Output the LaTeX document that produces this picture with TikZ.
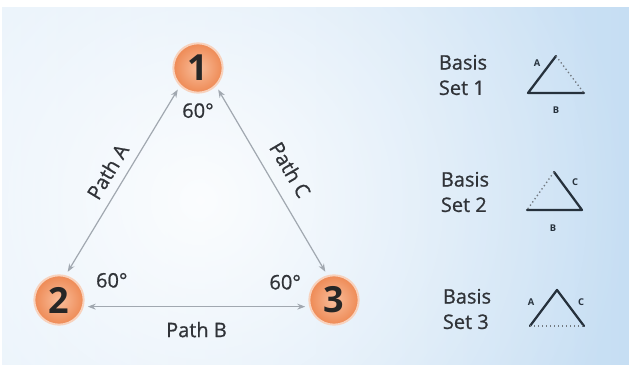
\documentclass[tikz,border=0pt]{standalone}
\usepackage{fontspec}
\setmainfont{Open Sans}
\newfontfamily\medfont{Open Sans}[FakeBold=0.8]
\usetikzlibrary{arrows.meta, positioning, fadings}

\definecolor{bgleft}{HTML}{E3EFFA}
\definecolor{bgright}{HTML}{C6DEF3}
\definecolor{hubinner}{HTML}{F9BE9C}
\definecolor{hubouter}{HTML}{EE8A55}
\definecolor{hubrim}{HTML}{F8D2BD}
\definecolor{pathgray}{HTML}{A1A8B0}
\definecolor{inkgray}{HTML}{303338}
\definecolor{legink}{HTML}{26313C}
\tikzfading[name=glowfade, inner color=transparent!0, outer color=transparent!100]

\begin{document}
\begin{tikzpicture}[x=0.75pt, y=0.75pt, >={Stealth[length=6pt, width=4.5pt]}]

	\tikzset{
		hub/.style={
				circle, inner color=hubinner, outer color=hubouter, draw=hubrim, line width=1.5pt, inner sep=0pt, minimum size=37pt, text=black!85, font=\fontsize{27}{27}\selectfont\bfseries
			},
		pathline/.style={
				<->, draw=pathgray, line width=0.9pt, shorten <=3pt, shorten >=3pt
			},
		lbl/.style={
				text=inkgray, font=\medfont\fontsize{15}{19}\selectfont, inner sep=1pt
			},
		leg/.style={
				draw=legink, line width=1.7pt, line cap=round, line join=round
			},
		dotleg/.style={
				draw=legink!65, line width=1pt, dotted
			},
		legtxt/.style={
				text=legink, font=\fontsize{7}{7}\selectfont\bfseries, inner sep=0.5pt
			},
	}
	\useasboundingbox (0,0) rectangle (629,372);
	\shade[left color=bgleft, right color=bgright] (2,8) rectangle (629,364);
	\begin{scope}
		\clip (2,8) rectangle (629,364);
		\fill[white, opacity=0.9, path fading=glowfade] (200,172) circle (430);
	\end{scope}

	\node[hub] (n1) at (198,304) {1};
	\node[hub] (n2) at (59,72) {2};
	\node[hub] (n3) at (334,72) {3};

	\draw[pathline] (n2.75) -- (n1.225) node[lbl, midway, sloped, above=6pt]{Path A};
	\draw[pathline] (n1.-45) -- (n3.105) node[lbl, midway, sloped, above=9pt]{Path C};
	\draw[pathline] (n2.-15) -- (n3.195) node[lbl, midway, below=10pt]{Path B};

	\node[lbl, below=6pt of n1](g1){60°};
	\node[lbl, above right=-5.6pt and 13pt of n2](g2){60°};
	\node[lbl, above left=-7pt and 10pt of n3](g3){60°};


  \node[lbl, align=left] (b1) at (463,297) {Basis\\Set 1};
  \node[lbl, align=left] (b2) at (465,180) {Basis\\Set 2};
  \node[lbl, align=left] (b3) at (467,63) {Basis\\Set 3};

	% basis set 1
	\coordinate (t1l) at (528,279);
	\coordinate (t1r) at (584,279);
	\coordinate (t1t) at (556,316);
	\draw[leg] (t1t) -- (t1l) -- (t1r);
	\draw[dotleg] (t1t) -- (t1r);
	\node[legtxt] (t1a) at (537,309) {A};
	\node[legtxt] (t1b) at (556,262) {B};

	% basis set 2
	\coordinate (t2l) at (527,162);
	\coordinate (t2r) at (582,162);
	\coordinate (t2t) at (554,200);
	\draw[leg] (t2t) -- (t2r) -- (t2l);
	\draw[dotleg] (t2t) -- (t2l);
	\node[legtxt] (t2c) at (575,190) {C};
	\node[legtxt] (t2b) at (553,144) {B};

	% basis set 3
	\coordinate (t3l) at (530,46);
	\coordinate (t3r) at (584,46);
	\coordinate (t3t) at (557,82);
	\draw[leg] (t3l) -- (t3t) -- (t3r);
	\draw[dotleg] (t3l) -- (t3r);
	\node[legtxt] (t3a) at (531,70) {A};
	\node[legtxt] (t3c) at (581,70) {C};

\end{tikzpicture}
\end{document}
